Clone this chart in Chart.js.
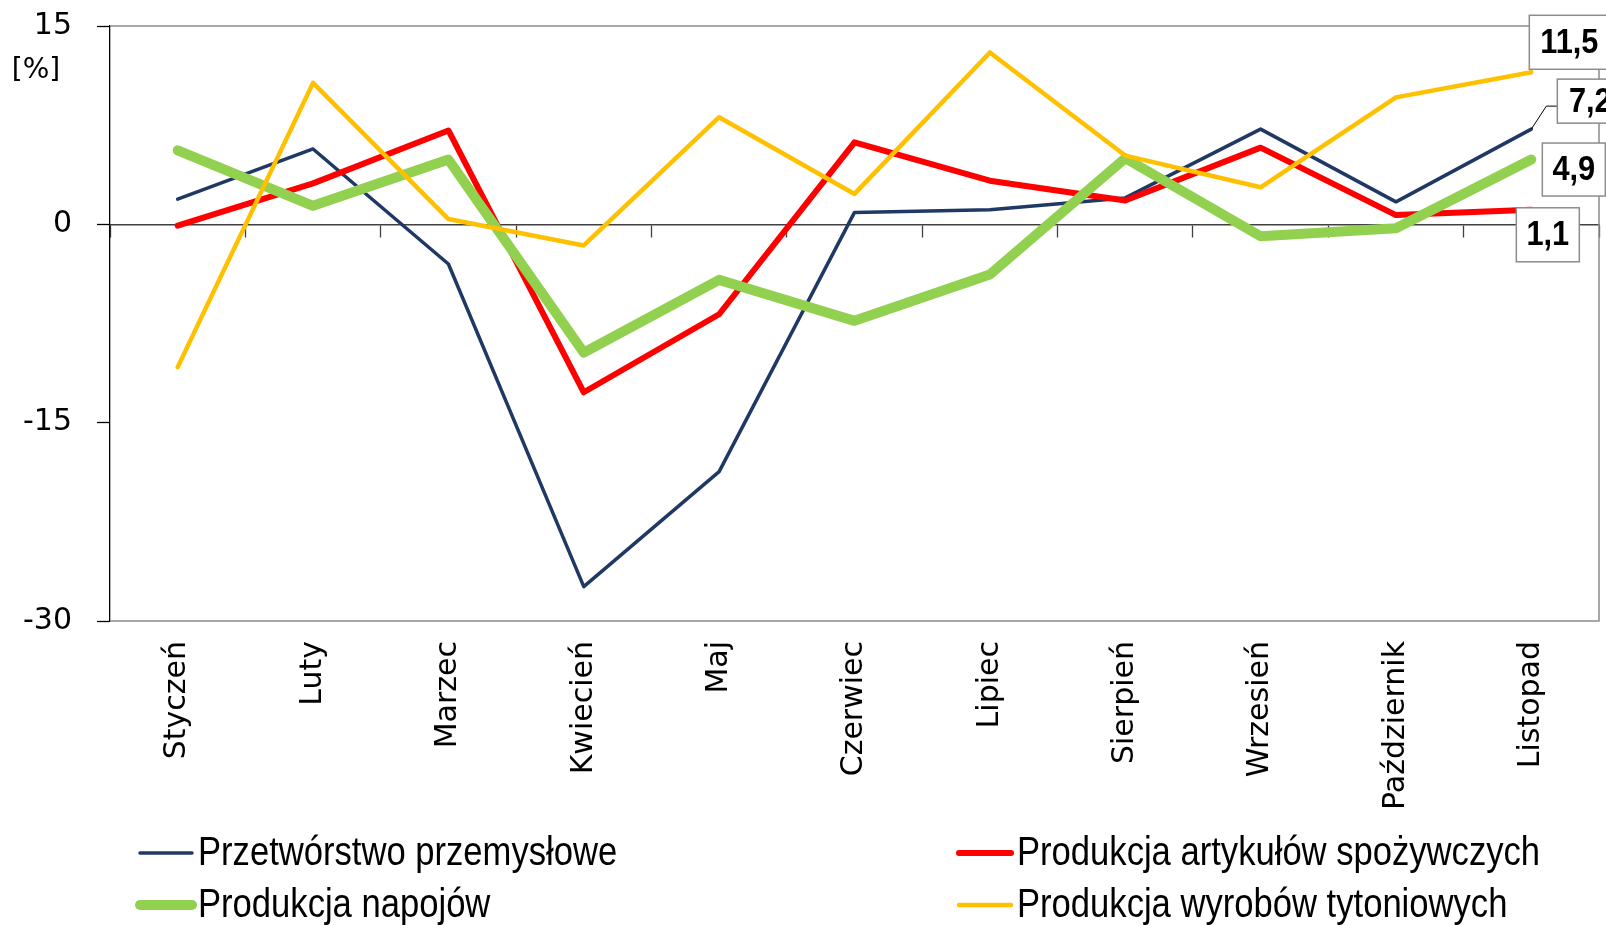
<!DOCTYPE html>
<html>
<head>
<meta charset="utf-8">
<script src="https://cdn.jsdelivr.net/npm/chart.js@4.4.1/dist/chart.umd.min.js"></script>
<style>
  body { margin: 0; background: #fff; }
</style>
</head>
<body>
<canvas id="wykres" width="1606" height="925"></canvas>
<script>
// dynamika produkcji w kolejnych miesiącach [%]
const miesiace = ['Styczeń', 'Luty', 'Marzec', 'Kwiecień', 'Maj', 'Czerwiec', 'Lipiec', 'Sierpień', 'Wrzesień', 'Październik', 'Listopad'];
const przetworstwo = [1.9, 5.7, -3.0, -27.4, -18.7, 0.9, 1.1, 2.0, 7.2, 1.7, 7.2];
const spozywcze = [-0.1, 3.1, 7.1, -12.7, -6.8, 6.2, 3.3, 1.8, 5.8, 0.7, 1.1];
const napoje = [5.6, 1.4, 4.9, -9.7, -4.2, -7.3, -3.8, 5.0, -0.9, -0.3, 4.9];
const tyton = [-10.8, 10.7, 0.4, -1.6, 8.1, 2.3, 13.0, 5.2, 2.8, 9.6, 11.5];
const osY = [15, 0, -15, -30];

const FONT_OSI = '"DejaVu Sans", Verdana, sans-serif';
const FONT_LEG = '"Liberation Sans", Arial, sans-serif';

// szara ramka obszaru wykresu (góra, prawa, dół)
const ramka = {
    id: 'ramka',
    beforeDatasetsDraw(chart) {
        const {ctx, chartArea: a} = chart;
        ctx.save();
        ctx.strokeStyle = '#8c8c8c';
        ctx.lineWidth = 1.5;
        ctx.beginPath();
        ctx.moveTo(a.left, a.top);
        ctx.lineTo(a.right, a.top);
        ctx.lineTo(a.right, a.bottom);
        ctx.lineTo(a.left, a.bottom);
        ctx.stroke();
        ctx.restore();
    }
};

// etykiety z wartością dla ostatniego miesiąca
const etykiety = {
    id: 'etykiety',
    afterDatasetsDraw(chart, args, opts) {
        const ctx = chart.ctx;
        ctx.save();
        opts.ramki.forEach(b => {
            const meta = chart.getDatasetMeta(b.ds);
            const i = meta.data.length - 1;
            const pt = meta.data[i];
            const val = chart.data.datasets[b.ds].data[i];
            const x = pt.x + b.dx, y = pt.y + b.dy;
            if (b.linia) {
                ctx.strokeStyle = '#000';
                ctx.lineWidth = 1;
                ctx.beginPath();
                ctx.moveTo(pt.x, pt.y);
                b.linia.forEach(p => ctx.lineTo(pt.x + p[0], pt.y + p[1]));
                ctx.stroke();
            }
            ctx.fillStyle = '#fff';
            ctx.fillRect(x, y, b.w, b.h);
            ctx.strokeStyle = '#8c8c8c';
            ctx.lineWidth = 1.5;
            ctx.strokeRect(x, y, b.w, b.h);
            ctx.fillStyle = '#000';
            ctx.font = 'bold 35px ' + FONT_LEG;
            ctx.textAlign = 'center';
            ctx.textBaseline = 'middle';
            // lekko zwężony tekst, jak w oryginale
            ctx.save();
            ctx.translate(x + b.w / 2, y + b.h / 2 + 1);
            ctx.scale(0.88, 1);
            ctx.fillText(val.toFixed(1).replace('.', ','), 0, 0);
            ctx.restore();
        });
        ctx.restore();
    }
};

// legenda w dwóch kolumnach + opis jednostki
const legenda = {
    id: 'legenda',
    afterDraw(chart, args, opts) {
        const ctx = chart.ctx;
        ctx.save();
        chart.data.datasets.forEach((ds, i) => {
            const x = opts.kolumny[i % 2];
            const y = opts.wiersze[Math.floor(i / 2)];
            ctx.strokeStyle = ds.borderColor;
            ctx.lineWidth = ds.borderWidth;
            ctx.lineCap = 'round';
            ctx.beginPath();
            ctx.moveTo(x, y);
            ctx.lineTo(x + 52, y);
            ctx.stroke();
            ctx.fillStyle = '#000';
            ctx.font = '40px ' + FONT_LEG;
            ctx.textAlign = 'left';
            ctx.textBaseline = 'middle';
            ctx.save();
            ctx.translate(x + 58, y + 1);
            ctx.scale(0.865, 1);
            ctx.fillText(ds.label, 0, 0);
            ctx.restore();
        });
        ctx.font = '28px ' + FONT_OSI;
        ctx.textAlign = 'center';
        ctx.textBaseline = 'middle';
        ctx.fillText('[%]', 36, 71);
        ctx.restore();
    }
};

const ctx = document.getElementById('wykres').getContext('2d');
const myChart = new Chart(ctx, {
    type: 'line',
    data: {
        labels: miesiace,
        datasets: [
            { label: 'Przetwórstwo przemysłowe', data: przetworstwo, borderColor: '#1f3864', borderWidth: 3.5, order: 3 },
            { label: 'Produkcja artykułów spożywczych', data: spozywcze, borderColor: '#ff0000', borderWidth: 6, order: 2 },
            { label: 'Produkcja napojów', data: napoje, borderColor: '#92d050', borderWidth: 10, order: 1 },
            { label: 'Produkcja wyrobów tytoniowych', data: tyton, borderColor: '#ffc000', borderWidth: 4.5, order: 0 }
        ]
    },
    options: {
        responsive: false,
        animation: false,
        layout: { padding: { top: 26, right: 7, bottom: 0, left: 0 } },
        elements: {
            point: { radius: 0, hoverRadius: 0 },
            line: { tension: 0, borderJoinStyle: 'round', borderCapStyle: 'round', fill: false }
        },
        scales: {
            x: {
                type: 'category',
                position: { y: 0 },
                offset: true,
                ticks: { display: false },
                grid: { offset: true, drawOnChartArea: false, tickLength: 12, tickColor: '#404040', tickWidth: 1.3 },
                border: { color: '#404040', width: 1.5 }
            },
            xl: {
                type: 'category',
                axis: 'x',
                labels: miesiace,
                position: 'bottom',
                offset: true,
                grid: { display: false },
                border: { display: false },
                ticks: {
                    autoSkip: false,
                    minRotation: 90,
                    maxRotation: 90,
                    padding: 12,
                    color: '#000',
                    font: { family: FONT_OSI, size: 30 }
                },
                afterFit(scale) { scale.height = 304; }
            },
            y: {
                min: osY[osY.length - 1],
                max: osY[0],
                ticks: {
                    stepSize: 15,
                    padding: 25,
                    color: '#000',
                    font: { family: FONT_OSI, size: 30 }
                },
                grid: { color: 'rgba(0,0,0,0)', drawOnChartArea: false, tickLength: 13, tickColor: '#000', tickWidth: 1.3 },
                border: { color: '#000', width: 1.3 },
                afterFit(scale) {
                    scale.width = 110;
                    scale.paddingTop = 0;
                    scale.paddingBottom = 0;
                }
            }
        },
        plugins: {
            legend: { display: false },
            tooltip: { enabled: false },
            etykiety: {
                ramki: [
                    { ds: 3, dx: -2, dy: -57, w: 80, h: 54 },
                    { ds: 0, dx: 26, dy: -50, w: 66, h: 44, linia: [[15, -23], [26, -23]] },
                    { ds: 2, dx: 11, dy: -16.5, w: 63, h: 53 },
                    { ds: 1, dx: -15, dy: -2, w: 63, h: 54 }
                ]
            },
            legenda: { kolumny: [140, 959], wiersze: [853, 905] }
        }
    },
    plugins: [ramka, etykiety, legenda]
});
</script>
</body>
</html>
